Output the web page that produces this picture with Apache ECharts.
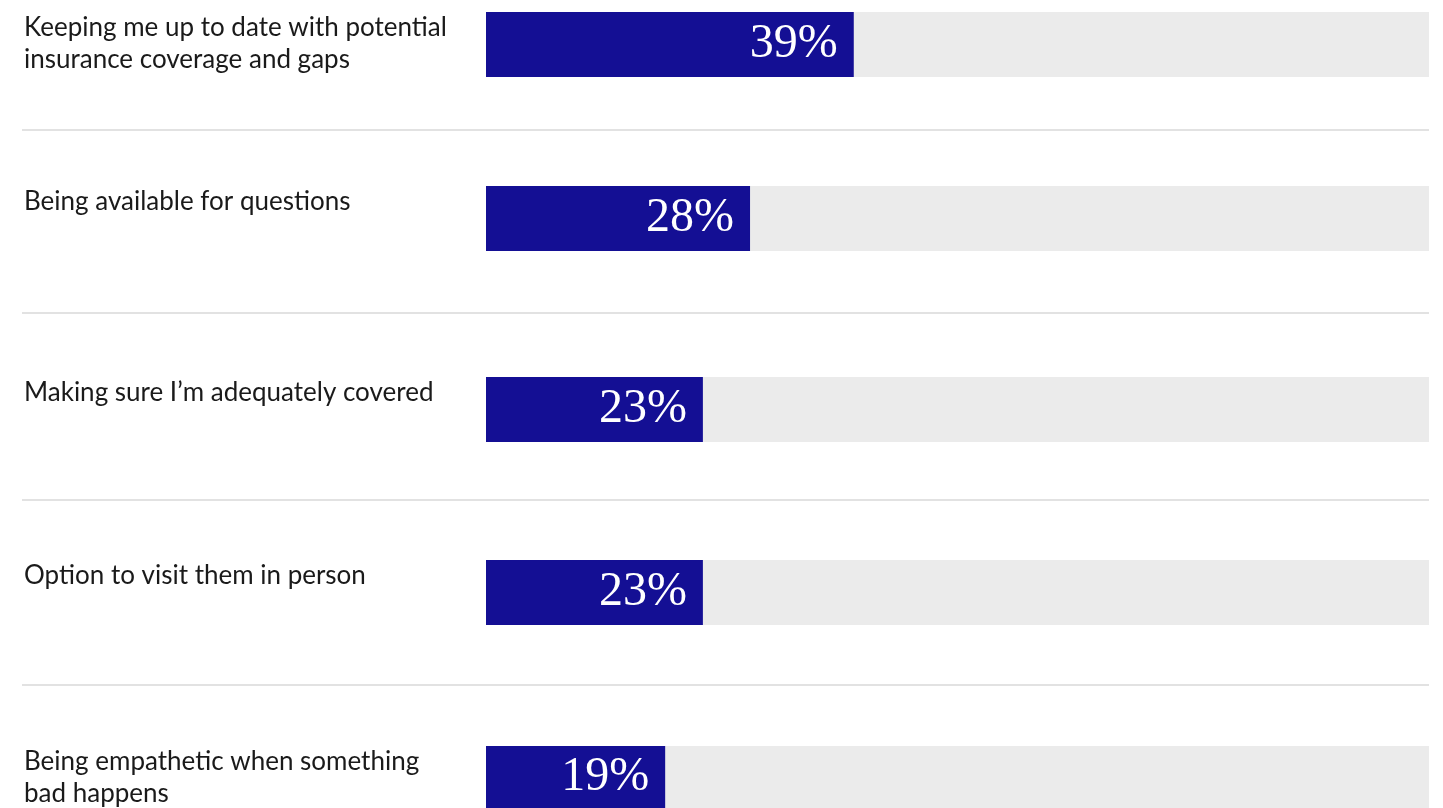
<!DOCTYPE html>
<html>
<head>
<meta charset="utf-8">
<script src="https://cdn.jsdelivr.net/npm/echarts@6/dist/echarts.min.js"></script>
<style>
html,body{margin:0;padding:0;background:#fff;}
#chart{width:1443px;height:808px;}
</style>
</head>
<body>
<div id="chart"></div>
<script>
const categories = [
  "Keeping me up to date with potential\ninsurance coverage and gaps",
  "Being available for questions",
  "Making sure I\u2019m adequately covered",
  "Option to visit them in person",
  "Being empathetic when something\nbad happens"
];
const values = [39, 28, 23, 23, 19];
const fullScale = [100, 100, 100, 100, 100];

// layout (pixel positions of rows and separators)
const rowTops = [12, 186, 377, 560, 746];
const separatorYs = [130, 313, 500, 685];
const barLeft = 486, barRight = 14, barHeight = 65;

const grids = [], xAxes = [], yAxes = [], series = [];
categories.forEach((cat, i) => {
  grids.push({left: barLeft, right: barRight, top: rowTops[i], height: barHeight});
  xAxes.push({type: 'value', gridIndex: i, min: 0, max: 100, show: false});
  yAxes.push({type: 'category', gridIndex: i, data: [cat], show: false});
  series.push({
    type: 'bar', xAxisIndex: i, yAxisIndex: i,
    data: [fullScale[i]], barWidth: barHeight, silent: true,
    itemStyle: {color: '#ebebeb'},
    label: {
      show: true, position: [24 - barLeft, 0],
      formatter: () => categories[i],
      fontFamily: 'Lato', fontSize: 26, lineHeight: 32,
      color: '#1a1a1a', align: 'left', verticalAlign: 'top'
    },
    z: 1
  });
  series.push({
    type: 'bar', xAxisIndex: i, yAxisIndex: i,
    data: [values[i]], barWidth: barHeight, barGap: '-100%', silent: true,
    itemStyle: {color: '#140f94'},
    label: {
      show: true, position: 'insideRight', distance: 16,
      formatter: '{c}%', fontFamily: 'Liberation Serif', fontSize: 48,
      color: '#ffffff'
    },
    z: 2
  });
});

const graphic = separatorYs.map(y => ({
  type: 'line', shape: {x1: 22, y1: y, x2: 1443 - barRight, y2: y},
  style: {stroke: '#d9d9d9', lineWidth: 1.5}, silent: true
}));

const chart = echarts.init(document.getElementById('chart'));
chart.setOption({
  animation: false,
  backgroundColor: '#ffffff',
  grid: grids, xAxis: xAxes, yAxis: yAxes, series: series,
  graphic: graphic
});
</script>
</body>
</html>
